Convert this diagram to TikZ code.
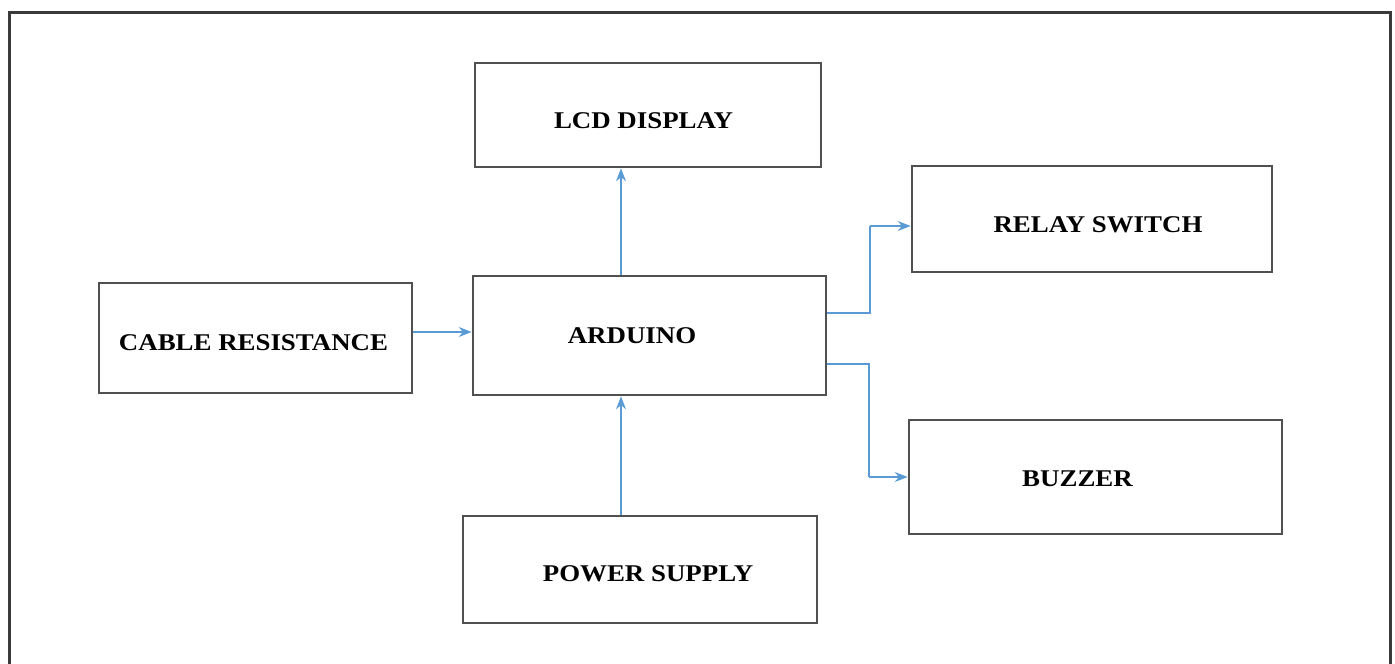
\documentclass[tikz,border=0pt]{standalone}
\usepackage{fontspec}
\setmainfont{Liberation Serif}
\usetikzlibrary{arrows.meta}
\definecolor{boxline}{HTML}{505050}
\definecolor{arrblue}{HTML}{5B9BD5}
\definecolor{frameline}{HTML}{3A3A3A}
\tikzset{
  blk/.style={draw=boxline, line width=2.6pt, rectangle, inner sep=0pt},
  txt/.style={font=\fontsize{24}{28}\selectfont\bfseries, inner sep=0pt},
  arr/.style={draw=arrblue, line width=1.4pt, -{Stealth[length=13pt,width=10pt]}},
}
\newcommand{\wtxt}[1]{\scalebox{1.12}[1]{#1}}
\begin{document}
\begin{tikzpicture}[x=1pt,y=-1pt]
\useasboundingbox (0,0) rectangle (1395,664);
% outer frame (bottom edge lies outside the picture)
\draw[frameline, line width=3pt] (9,664) -- (9,12) -- (1390,12) -- (1390,664);
% blocks
\node[blk, minimum width=346pt, minimum height=104pt,
  label={[txt, xshift=-4.5pt, yshift=-6pt]center:\wtxt{LCD DISPLAY}}] (lcd) at (648,115) {};
\node[blk, minimum width=360pt, minimum height=106pt,
  label={[txt, xshift=6pt, yshift=-6pt]center:\wtxt{RELAY SWITCH}}] (relay) at (1092,219) {};
\node[blk, minimum width=313pt, minimum height=110pt,
  label={[txt, xshift=-2pt, yshift=-5pt]center:\wtxt{CABLE RESISTANCE}}] (cable) at (255.5,338) {};
\node[blk, minimum width=353pt, minimum height=119pt,
  label={[txt, xshift=-17.5pt, yshift=-0.5pt]center:\wtxt{ARDUINO}}] (ard) at (649.5,335.5) {};
\node[blk, minimum width=373pt, minimum height=114pt,
  label={[txt, xshift=-18pt, yshift=-1.5pt]center:\wtxt{BUZZER}}] (buzz) at (1095.5,477) {};
\node[blk, minimum width=354pt, minimum height=107pt,
  label={[txt, xshift=8pt, yshift=-4.5pt]center:\wtxt{POWER SUPPLY}}] (power) at (640,569.5) {};
% connectors
\coordinate (vx) at (621,0);
\coordinate (ry) at (0,313);
\coordinate (by) at (0,364);
\coordinate (rt) at (870,226);
\coordinate (bt) at (869,477);
\draw[arr] (cable.east |- 0,332) -- (ard.west |- 0,332);
\draw[arr] (ard.north -| vx) -- (lcd.south -| vx);
\draw[arr] (power.north -| vx) -- (ard.south -| vx);
\draw[arr, -] (ard.east |- ry) -| (rt);
\draw[arr] (rt) -- (relay.west |- rt);
\draw[arr, -] (ard.east |- by) -| (bt);
\draw[arr] (bt) -- (buzz.west |- bt);
\end{tikzpicture}
\end{document}
